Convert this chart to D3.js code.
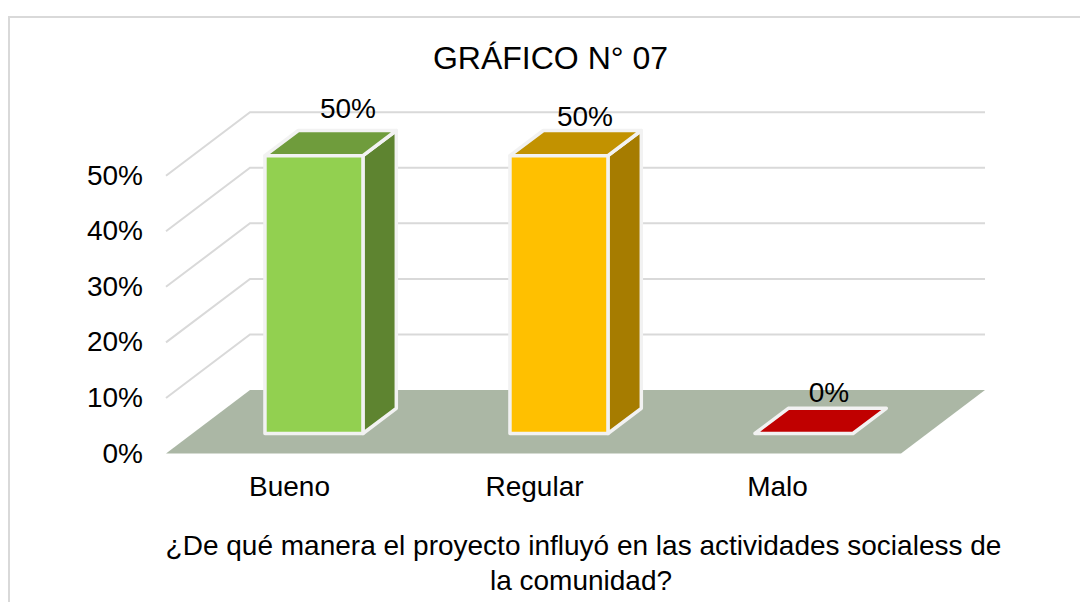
<!DOCTYPE html>
<html><head><meta charset="utf-8">
<script src="https://cdn.jsdelivr.net/npm/d3@7"></script>
<style>html,body{margin:0;padding:0;background:#fff}svg{display:block}text{font-family:"Liberation Sans",Arial,sans-serif;fill:#000}</style>
</head><body><svg id="c" width="1080" height="602"></svg>
<script>
const categories = ["Bueno","Regular","Malo"];
const values = [50,50,0];
const yTicks = [0,10,20,30,40,50];
const barFront = ["#92d050","#ffc000","#c00000"];
const barTop = ["#6f9c3c","#c29200","#920000"];
const barSide = ["#5e8430","#a67c00","#7c0000"];
const titleText = "GRÁFICO N° 07";
const axisTitleLines = ["¿De qué manera el proyecto influyó en las actividades socialess de","la comunidad?"];

const svg = d3.select("#c");
const x0=166,x1=901,floorY=453.5,topY=175.7;
const depthX=84,depthY=63.5;
const x = d3.scaleBand().domain(categories).range([x0,x1]);
const y = d3.scaleLinear().domain([0,50]).range([floorY,topY]);
const d = d3.scaleLinear().domain([0,1]).range([[0,0],[depthX,-depthY]]);
const proj=(px,py,t)=>{const o=d(t);return [px+o[0],py+o[1]].join(",");};
const line="#d9d9d9", edge="#f2f2f2";

// frame
svg.append("path").attr("d","M9,602V17H1080").attr("fill","none").attr("stroke","#d9d9d9").attr("stroke-width",2);

// floor
svg.append("polygon").attr("points",[proj(x0,floorY,0),proj(x0,floorY,1),proj(x1,floorY,1),proj(x1,floorY,0)].join(" ")).attr("fill","#abb7a5");

// gridlines
yTicks.filter(t=>t>0).forEach(t=>{
  svg.append("polyline").attr("points",[proj(x0,y(t),0),proj(x0,y(t),1),proj(x1,y(t),1)].join(" "))
    .attr("fill","none").attr("stroke",line).attr("stroke-width",2);
});

// tick labels
svg.selectAll(".yt").data(yTicks).join("text").attr("class","yt")
  .attr("x",143).attr("y",t=>y(t)+9).attr("text-anchor","end").attr("font-size",28)
  .text(t=>t+"%");

// bars
const d0=0.315,d1=0.712;
const barW=98;
categories.forEach((c,i)=>{
  const l=x(c)+x.bandwidth()/2-barW/2-1, r=l+barW;
  const b=y(0), t=y(values[i]);
  const g=svg.append("g").attr("stroke",edge).attr("stroke-width",3.5).attr("stroke-linejoin","round");
  if(values[i]>0){
    g.append("polygon").attr("points",[proj(r,b,d0),proj(r,t,d0),proj(r,t,d1),proj(r,b,d1)].join(" ")).attr("fill",barSide[i]);
    g.append("polygon").attr("points",[proj(l,t,d0),proj(l,t,d1),proj(r,t,d1),proj(r,t,d0)].join(" ")).attr("fill",barTop[i]);
    g.append("polygon").attr("points",[proj(l,b,d0),proj(l,t,d0),proj(r,t,d0),proj(r,b,d0)].join(" ")).attr("fill",barFront[i]);
  } else {
    g.append("polygon").attr("points",[proj(l,b,d0),proj(l,t,d1),proj(r,t,d1),proj(r,b,d0)].join(" ")).attr("fill",barFront[i]);
  }
});

// data labels
const labelPos=[[348,118],[585,126],[829,402]];
svg.selectAll(".dl").data(values).join("text").attr("class","dl")
  .attr("x",(v,i)=>labelPos[i][0]).attr("y",(v,i)=>labelPos[i][1]).attr("text-anchor","middle").attr("font-size",28)
  .text(v=>v+"%");

// categories
const catShift=[1,1,-1];
svg.selectAll(".ct").data(categories).join("text").attr("class","ct")
  .attr("x",(c,i)=>x(c)+x.bandwidth()/2+catShift[i]).attr("y",496).attr("text-anchor","middle").attr("font-size",28).text(c=>c);

svg.append("text").attr("x",550.5).attr("y",69).attr("text-anchor","middle").attr("font-size",32).text(titleText);
const axisTitleX=[583.5,581], axisTitleY=[555,589.5];
svg.selectAll(".at").data(axisTitleLines).join("text").attr("class","at")
  .attr("x",(s,i)=>axisTitleX[i]).attr("y",(s,i)=>axisTitleY[i]).attr("text-anchor","middle").attr("font-size",28).text(s=>s);
</script></body></html>
